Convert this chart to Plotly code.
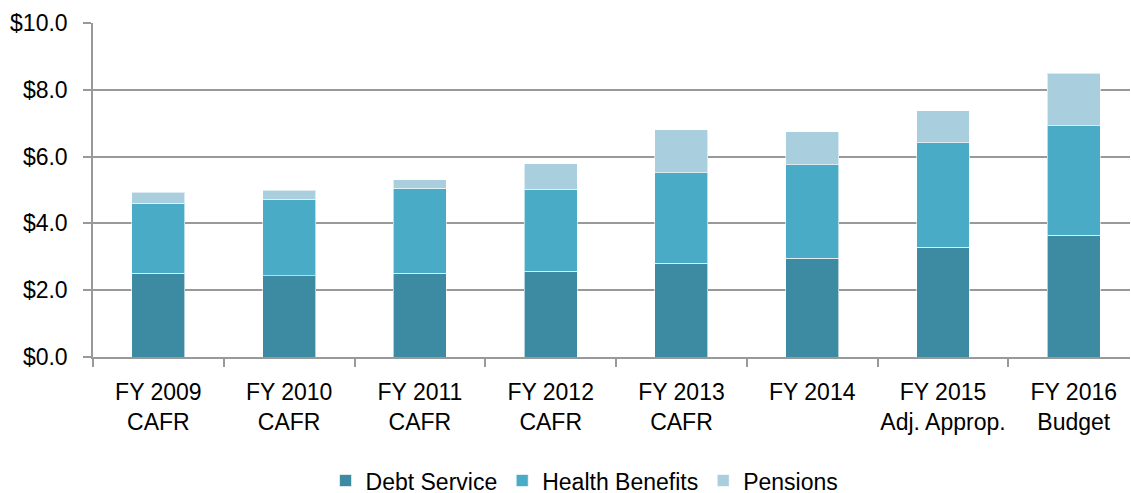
import plotly.graph_objects as go

categories = ["FY 2009<br>CAFR", "FY 2010<br>CAFR", "FY 2011<br>CAFR", "FY 2012<br>CAFR",
              "FY 2013<br>CAFR", "FY 2014", "FY 2015<br>Adj. Approp.", "FY 2016<br>Budget"]
debt_service = [2.51, 2.43, 2.51, 2.57, 2.81, 2.96, 3.29, 3.65]
health_benefits = [2.10, 2.30, 2.55, 2.46, 2.70, 2.79, 3.12, 3.27]
pensions = [0.33, 0.27, 0.24, 0.75, 1.29, 0.99, 0.96, 1.58]

series = [("Debt Service", debt_service, "#3d8ba3"),
          ("Health Benefits", health_benefits, "#4aabc6"),
          ("Pensions", pensions, "#a9cedd")]

fig = go.Figure()
for name, vals, color in series:
    fig.add_trace(go.Bar(x=categories, y=vals, name=name,
                         marker=dict(color=color, line=dict(color="rgba(255,255,255,0.6)", width=1))))

font = "Liberation Sans, Arial, sans-serif"
fs = 23
fig.update_layout(
    barmode="stack",
    bargap=0.595,
    width=1131, height=493,
    margin=dict(l=93, r=1, t=23, b=136, autoexpand=False),
    plot_bgcolor="white", paper_bgcolor="white",
    font=dict(family=font, size=fs, color="#000"),
    showlegend=True,
    legend=dict(orientation="h", x=0.474, xanchor="center", y=-0.37, yanchor="middle",
                font=dict(size=fs), traceorder="normal"),
    xaxis=dict(range=[-0.5, 7.43], showline=True, linecolor="#999", linewidth=1.5,
               ticks="outside", ticklen=8, tickcolor="#999", tickwidth=1.5,
               tickson="boundaries", showgrid=False, tickangle=0, ticklabelstandoff=14,
               tickfont=dict(size=fs)),
    yaxis=dict(range=[0, 10], dtick=2, tickprefix="$", tickformat=".1f", showline=True,
               linecolor="#999", linewidth=1.5, ticks="outside", ticklen=8, tickcolor="#999",
               tickwidth=1.5, showgrid=True, gridcolor="#999", gridwidth=1.5, zeroline=False,
               ticklabelstandoff=11, tickfont=dict(size=fs)),
)
fig.write_html("out.html", config={"displayModeBar": False},
               post_script="document.body.style.margin='0';")
